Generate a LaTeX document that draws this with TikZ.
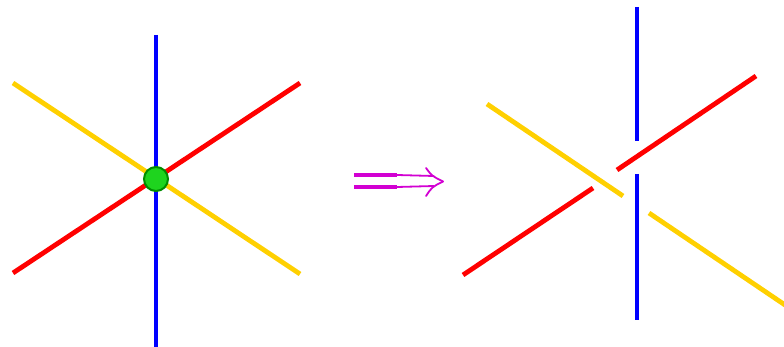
\documentclass[tikz,border=0pt]{standalone}
\usepackage{xcolor}
\usetikzlibrary{arrows.meta}

\definecolor{lineyellow}{RGB}{255,208,0}
\definecolor{hubgreen}{RGB}{30,212,30}
\definecolor{hubedge}{RGB}{0,140,0}
\definecolor{arrowmag}{RGB}{210,0,210}

\begin{document}
\begin{tikzpicture}[
    x=1pt, y=-1pt,
    wire/.style={line width=4.8pt},
    bluewire/.style={wire, blue},
    redwire/.style={wire, red},
    yellowwire/.style={wire, lineyellow},
    hub/.style={circle, draw=hubedge, fill=hubgreen, line width=2pt, minimum size=24pt, inner sep=0pt},
    maparrow/.style={arrowmag, line width=1.8pt}
]
\useasboundingbox (0,0) rectangle (784,347);

% before: three lines through one vertex
\coordinate (bl top) at (156,35);
\coordinate (bl bot) at (156,347);
\coordinate (rd left) at (13,273);
\coordinate (rd right) at (300,83);
\coordinate (yw left) at (13,83);
\coordinate (yw right) at (300,274);

\draw[yellowwire] (yw left) -- (yw right);
\draw[redwire] (rd left) -- (rd right);
\draw[bluewire] (bl top) -- (bl bot);
\node[hub] (vertex) at (156,179) {};

% transformation arrow
\coordinate (a1) at (354,175);
\coordinate (a2) at (397,175);
\coordinate (a3) at (354,187);
\coordinate (a4) at (397,187);
\coordinate (a5) at (434,176);
\coordinate (a6) at (434,186);
\coordinate (tip) at (443,181.5);
\coordinate (barb up) at (426,168);
\coordinate (barb dn) at (426,196);

\draw[maparrow, line width=3.6pt] (a1) -- (a2);
\draw[maparrow, line width=3.6pt] (a3) -- (a4);
\draw[maparrow] (a2) -- (a5);
\draw[maparrow] (a4) -- (a6);
\draw[maparrow, line cap=round] (barb up) .. controls (432,176) .. (tip);
\draw[maparrow, line cap=round] (barb dn) .. controls (432,187) .. (tip);

% after: the vertex is split apart
\coordinate (bl2 top) at (637,7);
\coordinate (bl2 mida) at (637,141);
\coordinate (bl2 midb) at (637,174);
\coordinate (bl2 bot) at (637,320);
\coordinate (rd2 a) at (617,170);
\coordinate (rd2 b) at (756,76);
\coordinate (rd2 c) at (463,275);
\coordinate (rd2 d) at (593,188);
\coordinate (yw2 a) at (487,104);
\coordinate (yw2 b) at (623,196);
\coordinate (yw2 c) at (649,213);
\coordinate (yw2 d) at (788,307);

\draw[bluewire] (bl2 top) -- (bl2 mida);
\draw[bluewire] (bl2 midb) -- (bl2 bot);
\draw[redwire] (rd2 a) -- (rd2 b);
\draw[redwire] (rd2 c) -- (rd2 d);
\draw[yellowwire] (yw2 a) -- (yw2 b);
\draw[yellowwire] (yw2 c) -- (yw2 d);

\end{tikzpicture}
\end{document}
